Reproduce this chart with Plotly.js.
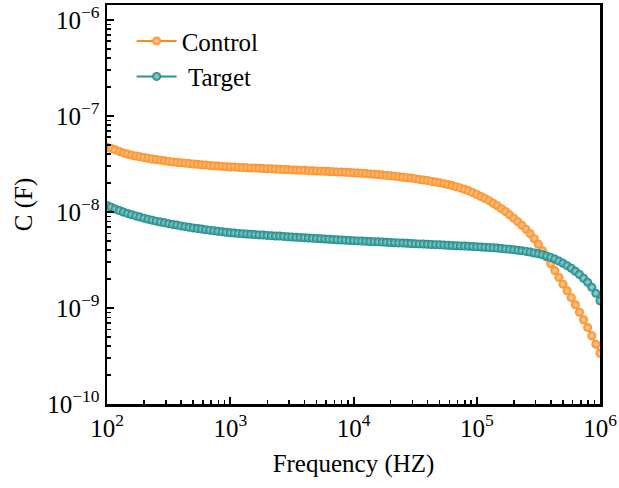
<!DOCTYPE html>
<html>
<head>
<meta charset="utf-8">
<script src="https://cdn.plot.ly/plotly-3.0.1.min.js"></script>
<style>html,body{margin:0;padding:0;background:#fff;}#chart{width:619px;height:488px;}</style>
</head>
<body>
<div id="chart"></div>
<script>
// Frequency (Hz)
const frequency = [100, 108, 116.6, 125.9, 135.9, 146.8, 158.5, 171.1, 184.8, 199.5, 215.4, 232.6, 251.2, 271.2, 292.9, 316.2, 341.5, 368.7, 398.1, 429.9, 464.2, 501.2, 541.2, 584.3, 631, 681.3, 735.6, 794.3, 857.7, 926.1,
  1000, 1080, 1166, 1259, 1359, 1468, 1585, 1711, 1848, 1995, 2154, 2326, 2512, 2712, 2929, 3162, 3415, 3687, 3981, 4299, 4642, 5012, 5412, 5843, 6310, 6813, 7356, 7943, 8577, 9261,
  10000, 10798, 11659, 12589, 13594, 14678, 15849, 17113, 18478, 19953, 21544, 23263, 25119, 27123, 29286, 31623, 34145, 36869, 39811, 42987, 46416, 50119, 54117, 58434, 63096, 68129, 73564, 79433, 85769, 92611,
  100000, 107977, 116591, 125893, 135936, 146780, 158489, 171133, 184785, 199526, 215443, 232631, 251189, 271227, 292864, 316228, 341455, 368695, 398107, 429866, 464159, 501187, 541170, 584341, 630957, 681292, 735642, 794328, 857696, 926119,
  1000000];

// Capacitance (F), Control
const controlC = [4.75e-8, 4.59e-8, 4.43e-8, 4.27e-8, 4.12e-8, 4.01e-8, 3.90e-8, 3.82e-8, 3.75e-8, 3.68e-8, 3.62e-8, 3.56e-8, 3.51e-8, 3.46e-8, 3.41e-8, 3.36e-8, 3.32e-8, 3.28e-8, 3.25e-8, 3.22e-8, 3.19e-8, 3.16e-8, 3.13e-8, 3.10e-8, 3.08e-8, 3.05e-8, 3.03e-8, 3.00e-8, 2.98e-8, 2.96e-8,
  2.94e-8, 2.93e-8, 2.91e-8, 2.90e-8, 2.89e-8, 2.87e-8, 2.86e-8, 2.85e-8, 2.83e-8, 2.82e-8, 2.81e-8, 2.80e-8, 2.78e-8, 2.77e-8, 2.76e-8, 2.74e-8, 2.73e-8, 2.72e-8, 2.71e-8, 2.69e-8, 2.68e-8, 2.67e-8, 2.66e-8, 2.65e-8, 2.63e-8, 2.62e-8, 2.61e-8, 2.60e-8, 2.59e-8, 2.57e-8,
  2.56e-8, 2.54e-8, 2.53e-8, 2.51e-8, 2.49e-8, 2.47e-8, 2.45e-8, 2.42e-8, 2.40e-8, 2.38e-8, 2.36e-8, 2.33e-8, 2.30e-8, 2.27e-8, 2.25e-8, 2.22e-8, 2.18e-8, 2.15e-8, 2.12e-8, 2.08e-8, 2.05e-8, 2.01e-8, 1.97e-8, 1.93e-8, 1.88e-8, 1.83e-8, 1.78e-8, 1.72e-8, 1.66e-8, 1.59e-8,
  1.52e-8, 1.45e-8, 1.38e-8, 1.31e-8, 1.23e-8, 1.16e-8, 1.08e-8, 1.01e-8, 9.33e-9, 8.61e-9, 7.92e-9, 7.25e-9, 6.59e-9, 5.93e-9, 5.26e-9, 4.61e-9, 3.95e-9, 3.39e-9, 2.88e-9, 2.45e-9, 2.08e-9, 1.77e-9, 1.51e-9, 1.28e-9, 1.08e-9, 9.02e-10, 7.53e-10, 6.25e-10, 5.14e-10, 4.19e-10,
  3.37e-10];

// Capacitance (F), Target
const targetC = [1.167e-8, 1.118e-8, 1.074e-8, 1.034e-8, 9.98e-9, 9.65e-9, 9.36e-9, 9.09e-9, 8.84e-9, 8.61e-9, 8.41e-9, 8.21e-9, 8.02e-9, 7.86e-9, 7.70e-9, 7.55e-9, 7.41e-9, 7.29e-9, 7.15e-9, 7.03e-9, 6.93e-9, 6.82e-9, 6.72e-9, 6.63e-9, 6.53e-9, 6.46e-9, 6.36e-9, 6.29e-9, 6.21e-9, 6.14e-9,
  6.07e-9, 6.03e-9, 5.98e-9, 5.94e-9, 5.90e-9, 5.86e-9, 5.81e-9, 5.77e-9, 5.74e-9, 5.70e-9, 5.66e-9, 5.62e-9, 5.60e-9, 5.56e-9, 5.52e-9, 5.49e-9, 5.45e-9, 5.43e-9, 5.39e-9, 5.36e-9, 5.33e-9, 5.29e-9, 5.26e-9, 5.23e-9, 5.20e-9, 5.16e-9, 5.14e-9, 5.10e-9, 5.08e-9, 5.04e-9,
  5.02e-9, 4.99e-9, 4.97e-9, 4.95e-9, 4.92e-9, 4.90e-9, 4.88e-9, 4.85e-9, 4.83e-9, 4.81e-9, 4.78e-9, 4.76e-9, 4.74e-9, 4.72e-9, 4.69e-9, 4.67e-9, 4.65e-9, 4.63e-9, 4.60e-9, 4.58e-9, 4.56e-9, 4.54e-9, 4.52e-9, 4.50e-9, 4.47e-9, 4.45e-9, 4.43e-9, 4.41e-9, 4.39e-9, 4.37e-9,
  4.35e-9, 4.32e-9, 4.29e-9, 4.26e-9, 4.23e-9, 4.20e-9, 4.16e-9, 4.12e-9, 4.08e-9, 4.03e-9, 3.98e-9, 3.94e-9, 3.88e-9, 3.82e-9, 3.74e-9, 3.66e-9, 3.58e-9, 3.48e-9, 3.36e-9, 3.23e-9, 3.08e-9, 2.92e-9, 2.76e-9, 2.59e-9, 2.41e-9, 2.23e-9, 2.04e-9, 1.85e-9, 1.64e-9, 1.42e-9,
  1.19e-9];

const xTickVals = [1e2, 1e3, 1e4, 1e5, 1e6];
const xTickText = ['10<sup>2</sup>', '10<sup>3</sup>', '10<sup>4</sup>', '10<sup>5</sup>', '10<sup>6</sup>'];
const yTickVals = [1e-10, 1e-9, 1e-8, 1e-7, 1e-6];
const yTickText = ['10<sup>\u221210</sup>', '10<sup>\u22129</sup>', '10<sup>\u22128</sup>', '10<sup>\u22127</sup>', '10<sup>\u22126</sup>'];
const seriesNames = ['Control', '\u00a0Target'];

const orange = '#FF8A1C';
const teal = '#168585';
const font = '"Liberation Serif", "Times New Roman", Times, serif';

const traces = [
  {x: frequency, y: controlC, name: seriesNames[0], type: 'scatter', mode: 'lines+markers',
   line: {color: orange, width: 2},
   marker: {symbol: 'circle', size: 9, color: orange, gradient: {type: 'radial', color: '#FFD2A4'}, line: {width: 0}}},
  {x: frequency, y: targetC, name: seriesNames[1], type: 'scatter', mode: 'lines+markers',
   line: {color: '#2A9494', width: 2},
   marker: {symbol: 'circle', size: 9, color: teal, gradient: {type: 'radial', color: '#A6DEDE'}, line: {width: 0}}}
];

const axisCommon = {
  type: 'log', showgrid: false, zeroline: false,
  showline: true, linecolor: '#000', linewidth: 2.5, mirror: true,
  ticks: 'inside', ticklen: 7, tickwidth: 2, tickcolor: '#000',
  tickmode: 'array',
  tickfont: {family: font, size: 25, color: '#000'},
  minor: {dtick: 'D1', ticks: 'inside', ticklen: 4, tickwidth: 1.5, tickcolor: '#000', showgrid: false}
};

const layout = {
  width: 619, height: 488,
  margin: {l: 107, r: 19, t: 5, b: 84},
  paper_bgcolor: '#fff', plot_bgcolor: '#fff',
  font: {family: font, color: '#000'},
  showlegend: true,
  legend: {x: 0.05, y: 0.967, xanchor: 'left', yanchor: 'top', bgcolor: 'rgba(0,0,0,0)',
           font: {family: font, size: 25, color: '#000'}, tracegroupgap: 0, itemwidth: 40},
  xaxis: Object.assign({}, axisCommon, {range: [2, 6], tickvals: xTickVals, ticktext: xTickText,
    title: {text: 'Frequency (HZ)', font: {family: font, size: 25, color: '#000'}, standoff: 14}}),
  yaxis: Object.assign({}, axisCommon, {range: [-10, -5.845], tickvals: yTickVals, ticktext: yTickText,
    title: {text: 'C (F)', font: {family: font, size: 25, color: '#000'}, standoff: 8}})
};

Plotly.newPlot('chart', traces, layout, {displayModeBar: false, staticPlot: true});
</script>
</body>
</html>
